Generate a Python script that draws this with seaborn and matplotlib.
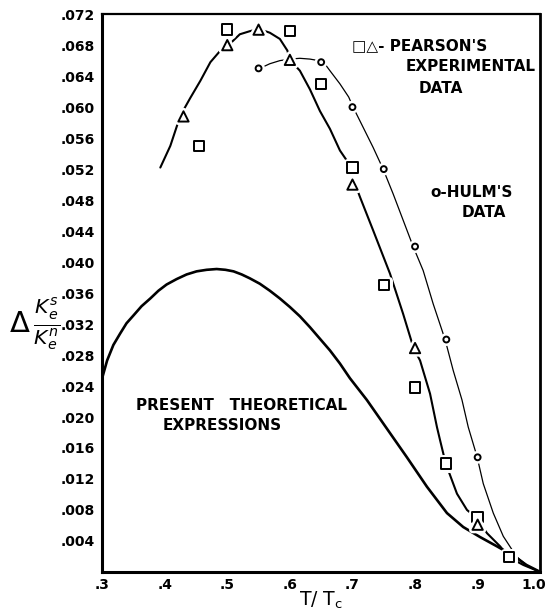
"""Relative change of electronic thermal conductivity K_e^s/K_e^n vs T/Tc."""
import matplotlib

matplotlib.use("Agg")
import matplotlib.pyplot as plt
import matplotlib.patheffects as pe
import matplotlib.transforms as mtransforms
import numpy as np
import seaborn as sns

# theory curve
theory_x = [0.300, 0.308, 0.318, 0.329, 0.339, 0.350, 0.363, 0.377, 0.390, 0.403, 0.419,
            0.435, 0.451, 0.467, 0.483, 0.497, 0.510, 0.523, 0.536, 0.552, 0.568, 0.584,
            0.600, 0.616, 0.632, 0.648, 0.664, 0.680, 0.696, 0.723, 0.755, 0.787, 0.819,
            0.851, 0.877, 0.904, 0.931, 0.957, 0.978, 1.000]
theory_y = [0.0250, 0.0273, 0.0293, 0.0308, 0.0321, 0.0331, 0.0343, 0.0353, 0.0363, 0.0371, 0.0378,
            0.0384, 0.0388, 0.0390, 0.0391, 0.0390, 0.0388, 0.0384, 0.0379, 0.0372, 0.0363, 0.0353,
            0.0342, 0.0330, 0.0316, 0.0301, 0.0286, 0.0269, 0.0250, 0.0222, 0.0185, 0.0148, 0.0110,
            0.0076, 0.0058, 0.0045, 0.0033, 0.0021, 0.0009, 0.0000]

# curve through Pearson's points
pearson_x = [0.393, 0.409, 0.425, 0.441, 0.457, 0.473, 0.489, 0.502, 0.520, 0.536, 0.550,
             0.568, 0.584, 0.596, 0.600, 0.616, 0.632, 0.648, 0.664, 0.680, 0.691, 0.700,
             0.712, 0.733, 0.760, 0.781, 0.798, 0.808, 0.824, 0.835, 0.840, 0.849,
             0.867, 0.883, 0.898, 0.915, 0.936, 0.950, 0.973, 1.000]
pearson_y = [0.0522, 0.0550, 0.0589, 0.0612, 0.0634, 0.0658, 0.0673, 0.0680, 0.0694, 0.0698, 0.0701,
             0.0696, 0.0688, 0.0673, 0.0661, 0.0647, 0.0623, 0.0595, 0.0572, 0.0544, 0.0531, 0.0510,
             0.0484, 0.0441, 0.0385, 0.0333, 0.0288, 0.0273, 0.0230, 0.0187, 0.0170, 0.0140,
             0.0101, 0.0080, 0.0070, 0.0050, 0.0033, 0.0019, 0.0009, 0.0000]

# curve through Hulm's points
hulm_x = [0.552, 0.568, 0.584, 0.600, 0.616, 0.632, 0.653, 0.664, 0.680, 0.694, 0.701,
          0.717, 0.733, 0.749, 0.765, 0.781, 0.797, 0.813, 0.829, 0.848, 0.861, 0.875,
          0.885, 0.899, 0.909, 0.925, 0.941, 0.962, 0.981, 1.000]
hulm_y = [0.0650, 0.0656, 0.0660, 0.0662, 0.0663, 0.0662, 0.0659, 0.0647, 0.0630, 0.0613, 0.0600,
          0.0574, 0.0548, 0.0520, 0.0488, 0.0454, 0.0420, 0.0389, 0.0346, 0.0300, 0.0260, 0.0222,
          0.0187, 0.0149, 0.0114, 0.0076, 0.0046, 0.0020, 0.0007, 0.0000]

# experimental points
sq_x = [0.455, 0.500, 0.600, 0.650, 0.700, 0.750, 0.800, 0.850, 0.900, 0.950]
sq_y = [0.0550, 0.0700, 0.0698, 0.0630, 0.0522, 0.0370, 0.0238, 0.0140, 0.0071, 0.0019]
tri_x = [0.430, 0.500, 0.550, 0.600, 0.700, 0.800, 0.900]
tri_y = [0.0588, 0.0680, 0.0700, 0.0661, 0.0500, 0.0289, 0.0061]
circ_x = [0.550, 0.650, 0.700, 0.750, 0.800, 0.850, 0.900]
circ_y = [0.0650, 0.0658, 0.0600, 0.0520, 0.0420, 0.0300, 0.0148]

x_ticks = [0.3, 0.4, 0.5, 0.6, 0.7, 0.8, 0.9, 1.0]
x_tick_labels = [".3", ".4", ".5", ".6", ".7", ".8", ".9", "1.0"]
y_ticks = np.round(np.arange(0.004, 0.0721, 0.004), 3)
y_tick_labels = [f"{v:.3f}".lstrip("0") for v in y_ticks]

sns.set_theme(style="white")
plt.rcParams["font.family"] = ["DejaVu Sans"]
plt.rcParams["mathtext.fontset"] = "dejavusans"
plt.rcParams["text.color"] = "black"

fig = plt.figure(figsize=(5.49, 6.15), dpi=100)
ax = fig.add_axes([0.186, 0.070, 0.798, 0.907])

halo = [pe.withStroke(linewidth=5, foreground="white")]

sns.lineplot(x=theory_x, y=theory_y, ax=ax, color="black", lw=1.9, sort=False, estimator=None)
sns.lineplot(x=pearson_x, y=pearson_y, ax=ax, color="black", lw=1.5, sort=False, estimator=None)
sns.lineplot(x=hulm_x, y=hulm_y, ax=ax, color="black", lw=0.9, sort=False, estimator=None)

for xs, ys, m, s in [(sq_x, sq_y, "s", 55), (tri_x, tri_y, "^", 55), (circ_x, circ_y, "o", 18)]:
    sns.scatterplot(x=xs, y=ys, ax=ax, marker=m, s=s, facecolor="white",
                    edgecolor="black", linewidth=1.4, zorder=5)
    ax.collections[-1].set_path_effects(halo)

ax.set_xlim(0.3, 1.0)
ax.set_ylim(0, 0.072)
ax.set_xticks(x_ticks)
ax.set_xticklabels(x_tick_labels, fontsize=10, fontweight="bold", color="black")
ax.set_yticks(y_ticks)
ax.set_yticklabels(y_tick_labels, fontsize=10, fontweight="bold", color="black")
ax.tick_params(axis="x", direction="in", length=5, width=1.5, pad=4, colors="black")
ax.tick_params(axis="y", direction="out", length=4, width=1.5, pad=1, colors="black")
# keep "1.0" inside the canvas
last = ax.get_xticklabels()[-1]
last.set_transform(last.get_transform() + mtransforms.ScaledTranslation(-5 / 72, 0, fig.dpi_scale_trans))
for side, w in [("left", 2.2), ("bottom", 2.2), ("right", 2.0), ("top", 1.6)]:
    ax.spines[side].set_linewidth(w)
    ax.spines[side].set_color("black")

ax.set_xlabel("T/ T$_\\mathregular{c}$", fontsize=13.5, labelpad=-1, color="black")
ax.text(-0.095, 0.445, r"$\Delta\,\frac{K_e^s}{K_e^n}$", transform=ax.transAxes,
        fontsize=21, ha="right", va="center")

txt = dict(fontsize=11, fontweight="bold", color="black")
ax.text(0.700, 0.0679, "□△- PEARSON'S", ha="left", va="center", **txt)
ax.text(0.993, 0.0653, "EXPERIMENTAL", ha="right", va="center", **txt)
ax.text(0.805, 0.0624, "DATA", ha="left", va="center", **txt)
ax.text(0.824, 0.0490, "o-HULM'S", ha="left", va="center", **txt)
ax.text(0.875, 0.0464, "DATA", ha="left", va="center", **txt)
ax.text(0.354, 0.0215, "PRESENT   THEORETICAL", ha="left", va="center", **txt)
ax.text(0.397, 0.0189, "EXPRESSIONS", ha="left", va="center", **txt)

fig.savefig("out.png", dpi=100)
